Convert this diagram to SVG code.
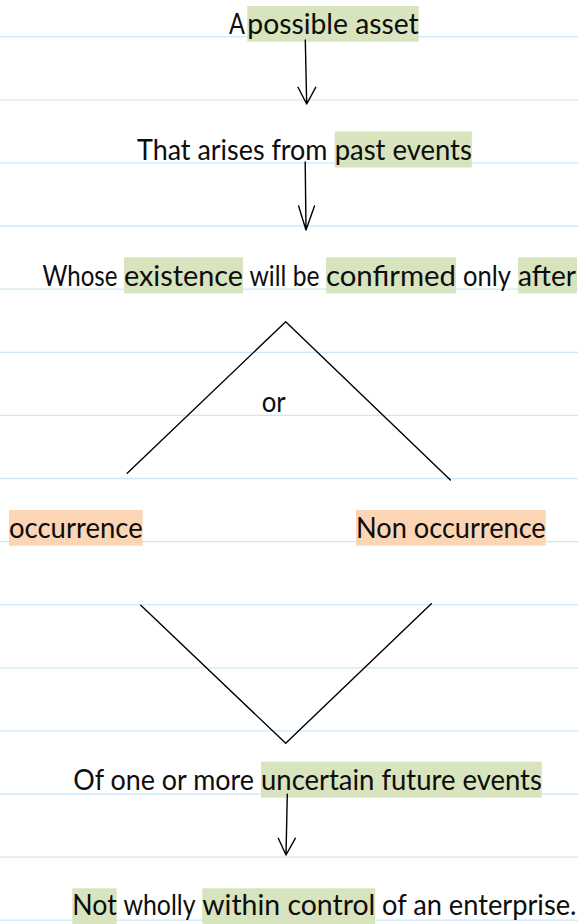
<svg xmlns="http://www.w3.org/2000/svg" width="578" height="924" viewBox="0 0 578 924">
<style>
  .rule { stroke: #cce7f8; stroke-width: 1.3; }
  .t { font-family: Lato, "Open Sans", "Liberation Sans", sans-serif; font-size: 28px; fill: #0d0d0d; }
  .hg { fill: #d7e4bd; }
  .ho { fill: #fcd5b5; }
  .ln { fill: none; stroke: #000000; stroke-width: 1.4; stroke-linecap: round; stroke-linejoin: round; }
</style>
<rect x="0" y="0" width="578" height="924" fill="#ffffff"/>
<g id="rules">
  <line class="rule" x1="0" y1="36.7" x2="578" y2="36.7"/>
  <line class="rule" x1="0" y1="99.8" x2="578" y2="99.8"/>
  <line class="rule" x1="0" y1="162.9" x2="578" y2="162.9"/>
  <line class="rule" x1="0" y1="226" x2="578" y2="226"/>
  <line class="rule" x1="0" y1="289.1" x2="578" y2="289.1"/>
  <line class="rule" x1="0" y1="352.3" x2="578" y2="352.3"/>
  <line class="rule" x1="0" y1="415.4" x2="578" y2="415.4"/>
  <line class="rule" x1="0" y1="478.5" x2="578" y2="478.5"/>
  <line class="rule" x1="0" y1="541.6" x2="578" y2="541.6"/>
  <line class="rule" x1="0" y1="604.7" x2="578" y2="604.7"/>
  <line class="rule" x1="0" y1="667.8" x2="578" y2="667.8"/>
  <line class="rule" x1="0" y1="730.9" x2="578" y2="730.9"/>
  <line class="rule" x1="0" y1="794" x2="578" y2="794"/>
  <line class="rule" x1="0" y1="857.1" x2="578" y2="857.1"/>
  <line class="rule" x1="0" y1="920.2" x2="578" y2="920.2"/>
</g>
<g id="n1">
  <rect class="hg" x="247.3" y="6" width="171.4" height="35.7"/>
  <text class="t" x="229" y="34.3" textLength="16" lengthAdjust="spacingAndGlyphs">A</text>
  <text class="t" x="247.3" y="34.3" textLength="171.4" lengthAdjust="spacingAndGlyphs">possible asset</text>
</g>
<g id="n2">
  <rect class="hg" x="334.7" y="131.5" width="137.1" height="36"/>
  <text class="t" x="137" y="160" textLength="190.5" lengthAdjust="spacingAndGlyphs">That arises from</text>
  <text class="t" x="334.7" y="160" textLength="137.1" lengthAdjust="spacingAndGlyphs">past events</text>
</g>
<g id="n3">
  <rect class="hg" x="124" y="257.3" width="119" height="36"/>
  <rect class="hg" x="326" y="257.3" width="130" height="36"/>
  <rect class="hg" x="518" y="257.3" width="59" height="36"/>
  <text class="t" x="42.5" y="286" textLength="75" lengthAdjust="spacingAndGlyphs">Whose</text>
  <text class="t" x="124" y="286" textLength="119" lengthAdjust="spacingAndGlyphs">existence</text>
  <text class="t" x="249.5" y="286" textLength="70" lengthAdjust="spacingAndGlyphs">will be</text>
  <text class="t" x="326" y="286" textLength="130" lengthAdjust="spacingAndGlyphs">confirmed</text>
  <text class="t" x="463" y="286" textLength="48" lengthAdjust="spacingAndGlyphs">only</text>
  <text class="t" x="518" y="286" textLength="58" lengthAdjust="spacingAndGlyphs">after</text>
</g>
<g id="or">
  <text class="t" x="261.7" y="411.5" textLength="24" lengthAdjust="spacingAndGlyphs">or</text>
</g>
<g id="occurrence">
  <rect class="ho" x="9" y="510" width="133.7" height="35.7"/>
  <text class="t" x="9" y="537.5" textLength="133.7" lengthAdjust="spacingAndGlyphs">occurrence</text>
</g>
<g id="non-occurrence">
  <rect class="ho" x="356" y="510" width="189.7" height="35.7"/>
  <text class="t" x="356" y="537.5" textLength="189.7" lengthAdjust="spacingAndGlyphs">Non occurrence</text>
</g>
<g id="n5">
  <rect class="hg" x="261" y="761.7" width="280.8" height="36"/>
  <text class="t" x="73.3" y="790" textLength="180.7" lengthAdjust="spacingAndGlyphs">Of one or more</text>
  <text class="t" x="261" y="790" textLength="280.8" lengthAdjust="spacingAndGlyphs">uncertain future events</text>
</g>
<g id="n6">
  <rect class="hg" x="72.3" y="888.3" width="44.4" height="36"/>
  <rect class="hg" x="202.3" y="888.3" width="172.9" height="36"/>
  <text class="t" x="72.3" y="915" textLength="44.4" lengthAdjust="spacingAndGlyphs">Not</text>
  <text class="t" x="123.5" y="915" textLength="72" lengthAdjust="spacingAndGlyphs">wholly</text>
  <text class="t" x="202.3" y="915" textLength="172.9" lengthAdjust="spacingAndGlyphs">within control</text>
  <text class="t" x="382" y="915" textLength="194.5" lengthAdjust="spacingAndGlyphs">of an enterprise.</text>
</g>
<g id="connectors">
  <path class="ln" d="M305.3 40 L306.7 104 M298 87.3 L306.7 104 L315.7 87.3"/>
  <path class="ln" d="M305.2 162 L306 230 M298.6 206 L306 230 L314.5 206"/>
  <path class="ln" d="M127.2 473.3 L285.7 321.7 L450.4 480"/>
  <path class="ln" d="M140.8 605.3 L285.7 743.3 L431.3 603.7"/>
  <path class="ln" d="M287.3 794.3 L286 855 M278.3 838.3 L286 855 L295.3 838.3"/>
</g>
</svg>
